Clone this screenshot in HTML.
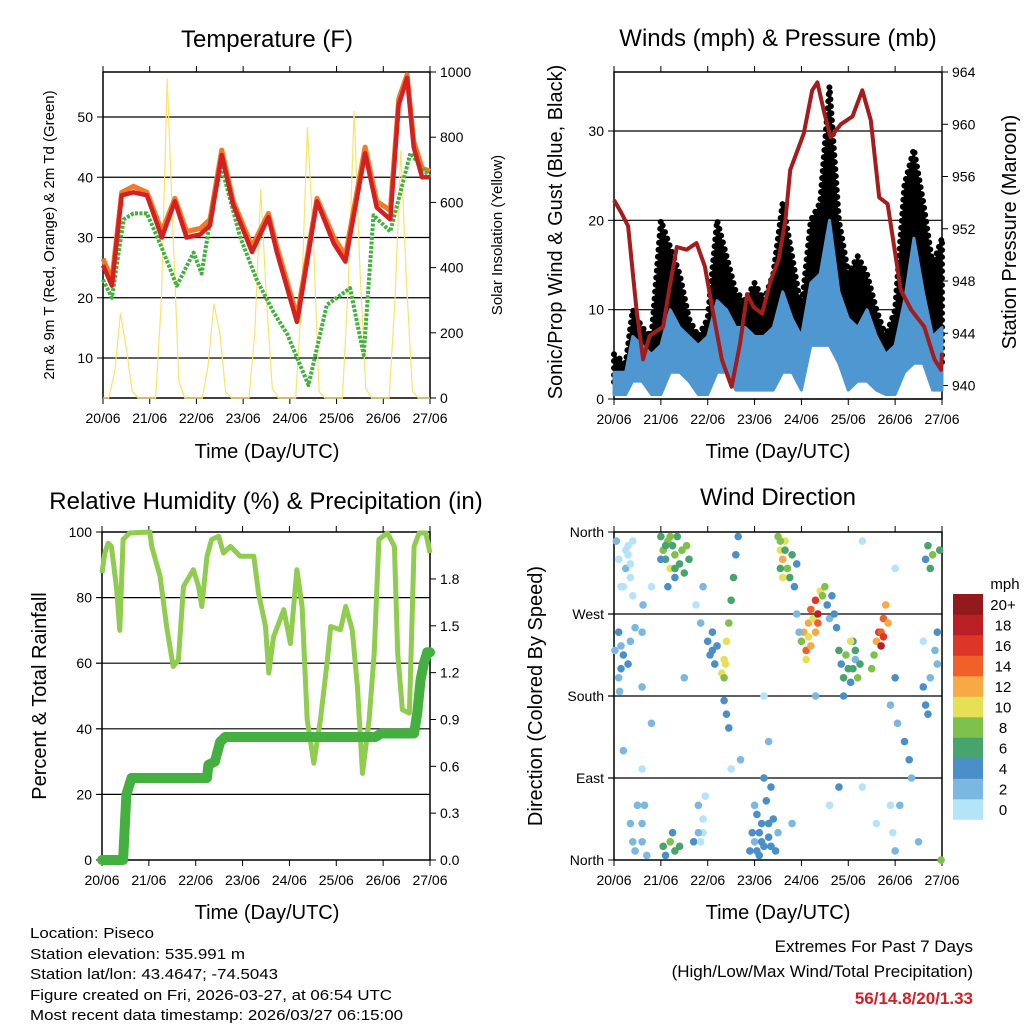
<!DOCTYPE html>
<html><head><meta charset="utf-8"><style>
body{margin:0;background:#fff}
svg text{font-family:"Liberation Sans",sans-serif;fill:#000}
</style></head><body>
<svg id="fig" width="1024" height="1024" viewBox="0 0 1024 1024" xmlns="http://www.w3.org/2000/svg">
<rect width="1024" height="1024" fill="#fff"/>
<g id="g"></g>
<text x="267" y="47" font-size="24" text-anchor="middle">Temperature (F)</text>
<text x="778" y="46" font-size="24" text-anchor="middle">Winds (mph) &amp; Pressure (mb)</text>
<text x="266" y="509" font-size="24" text-anchor="middle">Relative Humidity (%) &amp; Precipitation (in)</text>
<text x="778" y="505" font-size="24" text-anchor="middle">Wind Direction</text>
<text transform="translate(54,235) rotate(-90)" font-size="15" text-anchor="middle">2m &amp; 9m T (Red, Orange) &amp; 2m Td (Green)</text>
<text transform="translate(502,235) rotate(-90)" font-size="15" text-anchor="middle">Solar Insolation (Yellow)</text>
<text transform="translate(562,232) rotate(-90)" font-size="20" text-anchor="middle">Sonic/Prop Wind &amp; Gust (Blue, Black)</text>
<text transform="translate(1016,232) rotate(-90)" font-size="20" text-anchor="middle">Station Pressure (Maroon)</text>
<text transform="translate(46,696) rotate(-90)" font-size="20" text-anchor="middle">Percent &amp; Total Rainfall</text>
<text transform="translate(542,696) rotate(-90)" font-size="20" text-anchor="middle">Direction (Colored By Speed)</text>
<text x="267" y="458" font-size="20" text-anchor="middle">Time (Day/UTC)</text>
<text x="778" y="458" font-size="20" text-anchor="middle">Time (Day/UTC)</text>
<text x="267" y="919" font-size="20" text-anchor="middle">Time (Day/UTC)</text>
<text x="778" y="919" font-size="20" text-anchor="middle">Time (Day/UTC)</text>
<g font-size="15">
<text x="30" y="938" textLength="124" lengthAdjust="spacingAndGlyphs">Location: Piseco</text>
<text x="30" y="959" textLength="215" lengthAdjust="spacingAndGlyphs">Station elevation: 535.991 m</text>
<text x="30" y="979" textLength="248" lengthAdjust="spacingAndGlyphs">Station lat/lon: 43.4647; -74.5043</text>
<text x="30" y="1000" textLength="362" lengthAdjust="spacingAndGlyphs">Figure created on Fri, 2026-03-27, at 06:54 UTC</text>
<text x="30" y="1020" textLength="373" lengthAdjust="spacingAndGlyphs">Most recent data timestamp: 2026/03/27 06:15:00</text>
</g>
<g font-size="17">
<text x="973" y="952" text-anchor="end">Extremes For Past 7 Days</text>
<text x="973" y="977" text-anchor="end">(High/Low/Max Wind/Total Precipitation)</text>
<text x="973" y="1004" text-anchor="end" font-weight="bold" style="fill:#cc2229">56/14.8/20/1.33</text>
</g>
</svg>
<script>
// ---------- data ----------
const dayLabels = ["20/06","21/06","22/06","23/06","24/06","25/06","26/06","27/06"];
const tempTime = [0,0.19,0.4,0.65,0.94,1.26,1.54,1.79,2.08,2.29,2.54,2.79,3.19,3.54,3.72,4.15,4.2,4.58,4.94,5.19,5.61,5.86,6.15,6.33,6.51,6.65,6.83,7.0];
const temp2m   = [25.4,22,37,37.5,37,30,36,30,30.5,32,43.7,35.4,27.6,33.4,27.6,16,18,36,29,26,44,35,33,52,56.5,45,40,40];
const temp9m   = [26.5,23,37.5,38.5,37.5,31,36.5,31,31.5,33,44.5,36,28.5,34,28.5,17,19,36.5,30,27,45,36,34.5,53,57,46,41.5,41];
const dewTime  = [0,0.19,0.44,0.65,0.94,1.22,1.58,1.94,2.11,2.36,2.54,2.94,3.29,3.65,3.94,4.4,4.79,5.29,5.58,5.79,6.15,6.58,7.0];
const dewPoint = [23,20,33,34,34,29,22,27.5,24,36,41.6,30,23,17.6,14,5.5,18.8,21.6,10.5,33.7,31,44,40];
const solarTime = [0,0.125,0.25,0.375,0.5,0.625,0.75,0.875,1,1.125,1.25,1.375,1.5,1.625,1.75,1.875,2,2.125,2.25,2.375,2.5,2.625,2.75,2.875,3,3.125,3.25,3.375,3.5,3.625,3.75,3.875,4,4.125,4.25,4.375,4.5,4.625,4.75,4.875,5,5.125,5.25,5.375,5.5,5.625,5.75,5.875,6,6.125,6.25,6.375,6.5,6.625,6.75,6.875,7];
const solar = [0,0,80,260,150,20,0,0, 0,0,300,980,500,50,0,0, 0,0,100,290,200,20,0,0, 0,0,200,640,300,30,0,0, 0,0,300,830,500,20,0,0, 0,0,350,880,400,30,0,0, 0,0,300,760,350,20,0,0, 0];
const presTime = [0,.16,.3,.48,.62,.76,1.05,1.16,1.34,1.55,1.76,1.94,2.12,2.3,2.51,2.69,2.84,2.98,3.16,3.34,3.51,3.66,3.76,4.05,4.23,4.34,4.48,4.62,4.84,5.09,5.3,5.48,5.66,5.84,6.12,6.34,6.62,6.84,6.98,7.0];
const pressure = [954.2,953.2,952.2,945.8,942,943.8,944.5,947,950.6,950.4,950.9,949.1,945.5,942,939.9,943.2,947,946,945.5,948,949.6,952.7,956.5,959.3,962.6,963.2,961,959,960,960.6,962.6,960.3,954.4,953.9,947.3,945.8,944.5,942,941.2,942.5];
const windTime = [0,0.25,0.4,0.6,0.8,1.0,1.2,1.4,1.6,1.8,2.0,2.2,2.4,2.6,2.8,3.0,3.2,3.4,3.6,3.8,4.0,4.2,4.4,4.6,4.8,5.0,5.2,5.4,5.6,5.8,6.0,6.2,6.4,6.6,6.8,7.0];
const windHi = [3,3,7,6,5,6,10,8,7,6,7,11,10,8,8,7,7,8,12,9,7,13,14,20,12,9,8,10,7,5,6,11,18,12,7,8];
const windLo = [0.5,0.5,2,2,0.5,0.5,3,3,2,0.5,0.5,3,3,1,1,1,1,1,3,3,1,6,6,6,4,1,2,2,1,0.5,0.5,3,4,4,1,1];
const gustHi = [5,4,10,8,7,20,17,14,9,7,9,20,16,12,11,13,11,14,22,16,10,20,22,35,20,14,16,14,10,7,10,24,28,22,15,18];
const rhTime = [0,.06,.13,.2,.31,.38,.45,.59,1.02,1.06,1.24,1.38,1.52,1.63,1.74,1.95,2.06,2.13,2.24,2.34,2.49,2.59,2.74,2.95,3.24,3.34,3.49,3.56,3.66,3.88,4.02,4.16,4.27,4.38,4.52,4.66,4.81,4.88,5.09,5.2,5.34,5.45,5.56,5.7,5.81,5.91,6.09,6.24,6.31,6.41,6.56,6.66,6.77,6.91,7.0];
const rhValues = [87.5,93.6,96.6,95.6,83,70,97.7,99.7,100,95.6,86.5,71,59,61,83.4,88.5,83.4,77.3,92.6,97.7,98.7,93.6,95.6,92.6,92.6,81.4,71.2,57,68,76.3,66,88.5,77.3,42.7,29.5,42.7,61,71.2,70.2,77.3,70.2,52.9,26.4,42.7,63,97.7,99.7,95.6,63,45.8,44.8,95.6,99.7,99.7,93.6];
const rainTime = [0,0.45,0.52,0.63,2.24,2.27,2.41,2.52,2.63,5.84,5.95,6.66,6.73,6.8,6.87,6.94,7.0];
const rainTotal = [0,0,0.42,0.525,0.525,0.61,0.63,0.756,0.788,0.788,0.81,0.81,0.945,1.155,1.26,1.33,1.33];
const obsTime = [0.1,0.15,0.3,0.35,0.4,0.25,0.05, 0.02,0.1,0.15,0.2,0.3,0.35,0.45, 0.35,0.4,0.5,0.45,
 1.0,1.05,1.1,1.15,1.2,1.25,1.3,1.35,1.4,1.45,1.5,1.55,1.6,1.3,1.15, 1.05,1.1,1.2,1.3,1.4,1.25,
 1.75,1.85,1.9, 2.0,2.05,2.1,2.15,2.2,2.1, 2.3,2.35,2.4,2.45,2.5,2.55,2.6,2.65, 2.35,2.4,2.45,
 2.9,2.95,3.0,3.05,3.1,3.15,3.2,3.25,3.3,3.35,3.4,3.45,3.0,3.2,3.5,
 3.5,3.55,3.6,3.65,3.7,3.75,3.8,3.85,3.9,3.6,3.55,
 4.0,4.05,4.1,4.15,4.2,4.25,4.3,4.35,4.4,4.45,4.5,4.1, 4.55,4.6,4.65,
 4.8,4.85,4.9,4.95,5.0,5.05,5.1,4.9,5.15,5.05,
 5.5,5.55,5.6,5.65,5.7,5.75,5.8,5.85, 6.65,6.7,6.75,6.8,6.95,6.98,
 6.0,6.05,6.2,6.3,6.35,5.9,
 0.6,0.8,1.8,1.9,2.5,3.8,4.3,5.3,5.6,6.1,4.8,0.6,1.5,3.2,5.3,6.0,0.2,0.8,2.7,0.7,1.7,3.3,4.6,6.5,6.6,
 0.3,0.35,0.4,0.2,0.25,0.6,0.6,0.65,0.6,0.62,0.1,0.15,0.12,1.85,1.9,1.95,1.8,3.3,3.35,3.1,3.15,3.05,5.95,5.9,6.0,6.6,6.65,6.7,6.75,6.85,6.9,6.9,3.9,3.95,4.7,4.75,5.1,5.15,5.2,5.25,1.0,1.1,1.2,1.3,3.55,3.65,4.35,4.3,5.7,5.75,2.35,2.38,4.15,4.2];
const obsDir = [330,300,345,310,290,320,350, 230,250,235,225,215,240,255, 40,20,60,10,
 355,340,330,350,320,345,335,355,325,340,315,345,330,310,300, 15,5,20,10,15,30,
 280,260,300, 240,225,250,215,235,230, 205,220,240,260,285,310,335,355, 175,160,145,
 10,30,20,50,5,40,15,65,25,80,45,10,60,90,30,
 355,340,330,350,320,310,335,300,325,310,320,
 240,250,230,260,275,265,285,270,295,290,300,220, 280,265,290,
 230,215,200,225,210,195,240,180,220,240,
 210,225,240,250,235,265,280,260, 330,345,320,335,340,0,
 200,150,130,110,90,170,
 100,150,60,30,100,40,180,80,40,60,80,190,200,180,350,320,120,300,110,5,20,130,60,20,240,
 335,325,350,300,340,20,40,60,250,280,200,210,185,20,45,70,30,40,15,30,20,10,30,60,10,190,170,160,200,230,250,215,270,250,270,255,210,230,200,215,330,345,355,320,350,340,260,250,250,245,200,215,245,235];
const obsSpeed = [0,0,0,0,0,1,1, 2,4,2,4,4,2,2, 2,1,1,2,
 6,8,6,8,10,6,8,6,6,8,6,8,6,4,4, 6,4,8,6,6,4,
 0,2,2, 4,4,4,4,4,4, 10,10,10,8,6,6,4,4, 4,4,4,
 4,4,2,4,4,4,4,4,4,4,4,4,2,4,2,
 8,10,12,10,8,6,6,4,4,10,6,
 8,12,14,12,14,10,16,18,10,8,8,10, 4,2,4,
 6,4,6,8,6,4,4,4,2,10,
 8,8,12,16,18,14,12,12, 4,6,6,8,6,8,
 4,2,4,4,2,2,
 0,2,2,0,0,2,2,0,0,2,4,2,2,0,0,0,2,0,2,2,4,2,0,2,0,
 0,0,0,0,0,2,2,2,2,2,2,4,2,0,0,0,2,4,4,4,4,4,0,0,2,4,4,4,2,2,4,2,2,2,4,4,6,6,8,6,4,6,8,6,8,6,14,12,14,16,8,10,10,12];
const speedLevels = ["0","2","4","6","8","10","12","14","16","18","20+"];
const speedColors = ["#b5e4f8","#7ab8e2","#4a8fc7","#48a46d","#7dc04a","#e6e055","#f6a945","#ef6129","#dd3528","#bb1f26","#931a1c"];

// ---------- helpers ----------
const NS = "http://www.w3.org/2000/svg";
const G = document.getElementById('g');
function mk(tag, attrs, parent){ const e=document.createElementNS(NS,tag); for(const k in attrs) e.setAttribute(k,attrs[k]); (parent||G).appendChild(e); return e; }
function txt(x,y,s,size,anchor,parent){ const t=mk('text',{x:x,y:y,'font-size':size,'text-anchor':anchor||'middle'},parent); t.textContent=s; return t; }
function scale(d0,d1,r0,r1){ return v=>r0+(v-d0)/(d1-d0)*(r1-r0); }
function pathOf(xs,ys,fx,fy){ return xs.map((t,i)=>(i?'L':'M')+fx(t).toFixed(1)+','+fy(ys[i]).toFixed(1)).join(''); }
function bandOf(xs,lo,hi,fx,fy){ let d=xs.map((t,i)=>(i?'L':'M')+fx(t).toFixed(1)+','+fy(hi[i]).toFixed(1)).join(''); for(let i=xs.length-1;i>=0;i--) d+='L'+fx(xs[i]).toFixed(1)+','+fy(lo[i]).toFixed(1); return d+'Z'; }

function frame(name,x0,x1,y0,y1,fx){
  const g=mk('g',{});
  
  
  mk('rect',{x:x0,y:y0,width:x1-x0,height:y1-y0,fill:'none',stroke:'#000','stroke-width':1.5},g);
  dayLabels.forEach((d,i)=>{
    const x=fx(i);
    mk('line',{x1:x,x2:x,y1:y1,y2:y1+6,stroke:'#000','stroke-width':1},g);
    mk('line',{x1:x,x2:x,y1:y0,y2:y0-6,stroke:'#000','stroke-width':1},g);
    const t=txt(x,y1+25,d,14,'middle',g);
    
    
  });
  return g;
}
function yTicks(g,vals,labels,fy,x,side,grid,x0,x1){
  vals.forEach((v,i)=>{
    const y=fy(v);
    if(grid) mk('line',{x1:x0,x2:x1,y1:y,y2:y,stroke:'#000','stroke-width':1.2},g);
    if(side==='L'){ mk('line',{x1:x,x2:x-6,y1:y,y2:y,stroke:'#000'},g); if(labels){const t=txt(x-10,y+5,labels[i],14,'end',g);  } }
    else { mk('line',{x1:x,x2:x+6,y1:y,y2:y,stroke:'#000'},g); if(labels){const t=txt(x+10,y+5,labels[i],14,'start',g);  } }
  });
}

// ---------- Temperature ----------
(function(){
  const x0=103,x1=430,y0=72,y1=398;
  const fx=scale(0,7,x0,x1), fy=scale(10,50,358,117), fs=scale(0,1000,y1,y0);
  const g=frame('temperature',x0,x1,y0,y1,fx);
  const s=mk('path',{d:pathOf(solarTime,solar,fx,fs),fill:'none',stroke:'#f9e46a','stroke-width':1.2});
  
  
  yTicks(g,[10,20,30,40,50],['10','20','30','40','50'],fy,x0,'L',true,x0,x1);
  yTicks(g,[0,200,400,600,800,1000],['0','200','400','600','800','1000'],fs,x1,'R',false);
  const o=mk('path',{d:pathOf(tempTime,temp9m,fx,fy),fill:'none',stroke:'#f07a2a','stroke-width':5,'stroke-linejoin':'round'});
  
  
  const d=mk('path',{d:pathOf(dewTime,dewPoint,fx,fy),fill:'none',stroke:'#44b03f','stroke-width':4,'stroke-dasharray':'3 1.5','stroke-linejoin':'round'});
  
  
  const r=mk('path',{d:pathOf(tempTime,temp2m,fx,fy),fill:'none',stroke:'#d42020','stroke-width':4.5,'stroke-linejoin':'round'});
  
  
})();

// ---------- Winds ----------
(function(){
  const x0=614,x1=942,y0=72,y1=399;
  const fx=scale(0,7,x0,x1), fy=scale(0,30,399,131), fp=scale(940,964,385.5,72);
  const g=frame('winds',x0,x1,y0,y1,fx);
  yTicks(g,[0,10,20,30],['0','10','20','30'],fy,x0,'L',true,x0,x1);
  yTicks(g,[940,944,948,952,956,960,964],['940','944','948','952','956','960','964'],fp,x1,'R',false);
  const gl=windHi.map(v=>v*0.5);
  const b=mk('path',{d:bandOf(windTime,gl,gustHi,fx,fy),fill:'#000',stroke:'#000','stroke-width':6,'stroke-dasharray':'0 7','stroke-linecap':'round','stroke-linejoin':'round'});
  
  
  const w=mk('path',{d:bandOf(windTime,windLo,windHi,fx,fy),fill:'#4f97d0',stroke:'#4f97d0','stroke-width':3,'stroke-linejoin':'round'});
  
  
  const p=mk('path',{d:pathOf(presTime,pressure,fx,fp),fill:'none',stroke:'#a51c1c','stroke-width':4,'stroke-linejoin':'round'});
  
  
})();

// ---------- RH & precip ----------
(function(){
  const x0=102,x1=430,y0=532,y1=860;
  const fx=scale(0,7,x0,x1), fy=scale(0,100,y1,y0), fr=scale(0,100/47.6,y1,y0);
  const g=frame('humidity',x0,x1,y0,y1,fx);
  yTicks(g,[0,20,40,60,80,100],['0','20','40','60','80','100'],fy,x0,'L',false);
  yTicks(g,[20,40,60,80],null,fy,x0,'L',true,x0,x1);
  yTicks(g,[0,0.3,0.6,0.9,1.2,1.5,1.8],['0.0','0.3','0.6','0.9','1.2','1.5','1.8'],fr,x1,'R',false);
  const h=mk('path',{d:pathOf(rhTime,rhValues,fx,fy),fill:'none',stroke:'#8fcc50','stroke-width':5,'stroke-linejoin':'round'});
  
  
  const r=mk('path',{d:pathOf(rainTime,rainTotal,fx,fr),fill:'none',stroke:'#44b03f','stroke-width':10,'stroke-linejoin':'round','stroke-linecap':'round'});
  
  
})();

// ---------- Wind direction ----------
(function(){
  const x0=614,x1=942,y0=532,y1=860;
  const fx=scale(0,7,x0,x1), fy=scale(0,360,y1,y0);
  const g=frame('direction',x0,x1,y0,y1,fx);
  yTicks(g,[0,90,180,270,360],['North','East','South','West','North'],fy,x0,'L',false);
  yTicks(g,[90,180,270],null,fy,x0,'L',true,x0-6,x1);
  obsTime.forEach((t,i)=>{
    const k=Math.min(10,Math.round(obsSpeed[i]/2));
    const c=mk('circle',{cx:fx(t),cy:fy(obsDir[i]),r:3.8,fill:speedColors[k]});
    
    
  });
  const lg=mk('g',{});
  
  
  txt(1005,589,'mph',15,'middle',lg);
  speedLevels.forEach((l,i)=>{
    const y=799-i*20.5;
    mk('rect',{x:953,y:y,width:30,height:20.8,fill:speedColors[i]},lg);
    txt(1003,y+16,l,15,'middle',lg);
  });
})();
</script>
</body></html>
